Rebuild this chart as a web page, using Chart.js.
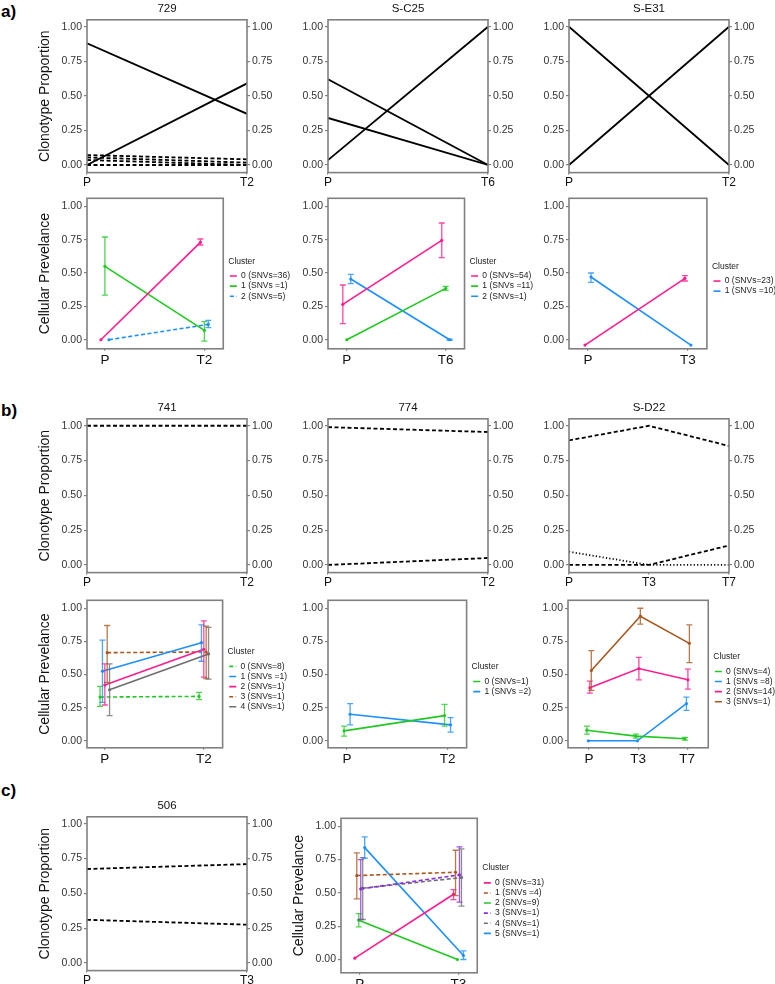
<!DOCTYPE html>
<html><head><meta charset="utf-8">
<script src="https://cdn.jsdelivr.net/npm/chart.js@4.4.1/dist/chart.umd.min.js"></script>
<style>
html,body{margin:0;padding:0;background:#fff;}
#page{position:relative;width:775px;height:984px;overflow:hidden;background:#fff;font-family:'Liberation Sans',Arial,sans-serif;}
.lbl{position:absolute;font-weight:bold;font-size:17px;color:#000;line-height:17px;}
</style></head><body><div id="page">
<div class="lbl" style="left:1px;top:3px">a)</div>
<div class="lbl" style="left:1px;top:402px">b)</div>
<div class="lbl" style="left:1px;top:782px">c)</div>
</div>
<script>
// ================= DATA =================
// ---- a) clonotype proportions
const timesA729 = ['P', 'T2'];
const cloneA729 = [[0.88, 0.37], [0.0, 0.59], [0.072, 0.041], [0.055, 0.017], [0.036, 0.0], [0.0, 0.0]];
const cloneTypeA729 = ['solid', 'solid', 'dashed', 'dashed', 'dashed', 'dashed'];

const timesC25 = ['P', 'T6'];
const cloneC25 = [[0.035, 1.0], [0.62, 0.0], [0.34, 0.0]];
const cloneTypeC25 = ['solid', 'solid', 'solid'];

const timesE31Clone = ['P', 'T2'];
const cloneE31 = [[1.0, 0.0], [0.0, 1.0]];
const cloneTypeE31 = ['solid', 'solid'];

// ---- a) cellular prevalence
const clusA729 = ['0 (SNVs=36)', '1 (SNVs =1)', '2 (SNVs=5)'];
const prevA729 = [[0.0, 0.73], [0.55, 0.07], [0.0, 0.115]];
const loA729 = [[null, 0.71], [0.335, -0.01], [null, 0.09]];
const hiA729 = [[null, 0.755], [0.77, 0.135], [null, 0.145]];

const clusC25 = ['0 (SNVs=54)', '1 (SNVs =11)', '2 (SNVs=1)'];
const prevC25 = [[0.265, 0.745], [0.0, 0.385], [0.455, 0.0]];
const loC25 = [[0.12, 0.615], [null, 0.37], [0.42, -0.005]];
const hiC25 = [[0.41, 0.875], [null, 0.40], [0.49, 0.005]];

const timesE31 = ['P', 'T3'];
const clusE31 = ['0 (SNVs=23)', '1 (SNVs =10)'];
const prevE31 = [[-0.04, 0.46], [0.47, -0.04]];
const loE31 = [[null, 0.44], [0.43, null]];
const hiE31 = [[null, 0.48], [0.50, null]];

// ---- b) clonotype proportions
const times741 = ['P', 'T2'];
const clone741 = [[1.0, 1.0]];
const cloneType741 = ['dashed'];

const times774 = ['P', 'T2'];
const clone774 = [[0.99, 0.955], [0.0, 0.05]];
const cloneType774 = ['dashed', 'dashed'];

const timesD22 = ['P', 'T3', 'T7'];
const cloneD22 = [[0.895, 1.0, 0.855], [0.095, 0.0, 0.0], [0.0, 0.0, 0.14]];
const cloneTypeD22 = ['dashed', 'dotted', 'dashed'];

// ---- b) cellular prevalence
const clus741 = ['0 (SNVs=8)', '1 (SNVs =1)', '2 (SNVs=1)', '3 (SNVs=1)', '4 (SNVs=1)'];
const prev741 = [[0.33, 0.335], [0.525, 0.74], [0.42, 0.69], [0.665, 0.67], [0.385, 0.655]];
const lo741 = [[0.26, 0.31], [0.29, 0.60], [0.27, 0.48], [0.44, 0.47], [0.19, 0.465]];
const hi741 = [[0.41, 0.365], [0.76, 0.875], [0.58, 0.905], [0.87, 0.865], [0.58, 0.855]];

const clus774 = ['0 (SNVs=1)', '1 (SNVs =2)'];
const prev774 = [[0.075, 0.19], [0.20, 0.12]];
const lo774 = [[0.035, 0.11], [0.12, 0.065]];
const hi774 = [[0.11, 0.275], [0.28, 0.175]];

const clusD22 = ['0 (SNVs=4)', '1 (SNVs =8)', '2 (SNVs=14)', '3 (SNVs=1)'];
const prevD22 = [[0.08, 0.035, 0.015], [0.0, 0.0, 0.28], [0.40, 0.545, 0.46], [0.53, 0.94, 0.735]];
const loD22 = [[0.05, 0.02, 0.005], [null, null, 0.23], [0.36, 0.46, 0.39], [0.38, 0.88, 0.59]];
const hiD22 = [[0.11, 0.05, 0.025], [null, null, 0.33], [0.45, 0.63, 0.54], [0.68, 1.0, 0.875]];

// ---- c) patient 506
const times506 = ['P', 'T3'];
const clone506 = [[0.675, 0.71], [0.31, 0.275]];
const cloneType506 = ['dashed', 'dashed'];

const clus506 = ['0 (SNVs=31)', '1 (SNVs =4)', '2 (SNVs=9)', '3 (SNVs=1)', '4 (SNVs=1)', '5 (SNVs=1)'];
const prev506 = [[0.01, 0.49], [0.63, 0.655], [0.295, 0.0], [0.53, 0.635], [0.535, 0.615], [0.84, 0.03]];
const lo506 = [[null, 0.45], [0.455, 0.48], [0.245, null], [0.30, 0.43], [0.30, 0.40], [0.76, 0.0]];
const hi506 = [[null, 0.525], [0.80, 0.82], [0.345, null], [0.75, 0.845], [0.765, 0.83], [0.92, 0.065]];

const Y_TICKS = [0, 0.25, 0.5, 0.75, 1];

// ================= STYLE =================
Chart.defaults.font.family = "'Liberation Sans', Arial, Helvetica, sans-serif";
Chart.defaults.animation = false;
const PINK = '#FF1C8E', GREEN = '#22C922', BLUE = '#1E8FFF', BROWN = '#A8571F', GREY = '#6E6E6E', PURPLE = '#8B2BE2';
const DASH = {solid: [], dashed: [4, 2.5], dotted: [1.2, 2.2]};
const FRAME_COL = '#808080';
const DODGE = 0.12;

const colA729 = [PINK, GREEN, BLUE], ltA729 = ['solid', 'solid', 'dashed'];
const colC25 = [PINK, GREEN, BLUE], ltC25 = ['solid', 'solid', 'solid'];
const colE31 = [PINK, BLUE], ltE31 = ['solid', 'solid'];
const col741 = [GREEN, BLUE, PINK, BROWN, GREY], lt741 = ['dashed', 'solid', 'solid', 'dashed', 'solid'];
const col774 = [GREEN, BLUE], lt774 = ['solid', 'solid'];
const colD22 = [GREEN, BLUE, PINK, BROWN], ltD22 = ['solid', 'solid', 'solid', 'solid'];
const col506 = [PINK, BROWN, GREEN, PURPLE, GREY, BLUE], lt506 = ['solid', 'dashed', 'solid', 'dashed', 'dashed', 'solid'];

const framePlugin = {
  id: 'frame',
  afterDatasetsDraw(chart) {
    const {ctx, chartArea: a} = chart;
    ctx.save();
    ctx.strokeStyle = FRAME_COL; ctx.lineWidth = 1.6; ctx.setLineDash([]);
    ctx.strokeRect(a.left, a.top, a.right - a.left, a.bottom - a.top);
    ctx.restore();
  }
};

const errorBarPlugin = {
  id: 'errbars',
  afterDatasetsDraw(chart) {
    const ctx = chart.ctx, xs = chart.scales.x, ys = chart.scales.y;
    chart.data.datasets.forEach((ds) => {
      if (!ds.errLo) return;
      ctx.save();
      ctx.strokeStyle = ds.borderColor; ctx.globalAlpha = 0.8; ctx.lineWidth = 1.3; ctx.setLineDash([]);
      ds.data.forEach((pt, j) => {
        const lo = ds.errLo[j], hi = ds.errHi[j];
        if (lo == null || hi == null) return;
        const px = xs.getPixelForValue(pt.x);
        const y1 = ys.getPixelForValue(lo), y2 = ys.getPixelForValue(hi);
        ctx.beginPath();
        ctx.moveTo(px, y1); ctx.lineTo(px, y2);
        ctx.moveTo(px - 3, y1); ctx.lineTo(px + 3, y1);
        ctx.moveTo(px - 3, y2); ctx.lineTo(px + 3, y2);
        ctx.stroke();
      });
      ctx.restore();
    });
  }
};

function yAxis(o, pos, width, showTitle) {
  return {
    position: pos, min: o.ymin, max: o.ymax,
    afterBuildTicks: s => { s.ticks = Y_TICKS.map(v => ({value: v})); },
    ticks: {callback: v => v.toFixed(2), color: '#333', font: {size: 10.5}, padding: 2},
    grid: {drawOnChartArea: false, tickLength: 3, color: FRAME_COL, lineWidth: 1.2},
    border: {display: false},
    title: {display: showTitle, text: o.yTitle || '', color: '#111', font: {size: 14}, padding: {top: 2, bottom: 0}},
    afterFit: s => { s.width = width; }
  };
}

function xAxis(o, size) {
  return {
    type: 'linear', min: o.xmin, max: o.xmax,
    afterBuildTicks: s => { s.ticks = o.times.map((_, j) => ({value: j})); },
    ticks: {callback: v => o.times[v], color: '#111', font: {size: size}, padding: 1, maxRotation: 0, autoSkip: false},
    grid: {drawOnChartArea: false, tickLength: 2, color: FRAME_COL, lineWidth: 1.2},
    border: {display: false}
  };
}

function clonoConfig(o) {
  const w = o.yTitle ? 52 : 30;
  return () => ({
    type: 'line',
    data: {datasets: o.series.map((s, i) => ({
      label: 'clone ' + (i + 1),
      data: s.map((v, j) => ({x: j, y: v})),
      borderColor: '#000', borderWidth: 1.8, borderDash: DASH[o.types[i]],
      pointRadius: 0, tension: 0, fill: false
    }))},
    options: {
      responsive: false, animation: false, events: [],
      plugins: {
        legend: {display: false}, tooltip: {enabled: false},
        title: {display: true, text: o.title, color: '#111', font: {size: 11.5, weight: 'normal'}, padding: {top: 0, bottom: 4}}
      },
      scales: {
        x: xAxis({times: o.times, xmin: 0, xmax: o.times.length - 1}, 12),
        y: yAxis(o, 'left', w, !!o.yTitle),
        yR: yAxis(o, 'right', w, false)
      }
    },
    plugins: [framePlugin]
  });
}

function legendLabels(chart) {
  return chart.data.datasets.map((ds, i) => ({
    text: ds.label, datasetIndex: i, hidden: false,
    fillStyle: ds.borderColor, strokeStyle: ds.borderColor,
    lineWidth: 1.6, lineDash: ds.borderDash, pointStyle: 'line', fontColor: '#222'
  }));
}

function cellConfig(o) {
  return () => {
    const n = o.clusters.length, step = DODGE / n;
    return {
      type: 'line',
      data: {datasets: o.clusters.map((name, i) => {
        const off = (i - (n - 1) / 2) * step;
        return {
          label: name,
          data: o.values[i].map((v, j) => ({x: j + off, y: v})),
          errLo: o.lo[i], errHi: o.hi[i],
          borderColor: o.colors[i], backgroundColor: o.colors[i], pointBackgroundColor: o.colors[i],
          borderWidth: 1.6, borderDash: DASH[o.types[i]], pointRadius: 1.6, pointBorderWidth: 0,
          tension: 0, fill: false
        };
      })},
      options: {
        responsive: false, animation: false, events: [],
        plugins: {
          tooltip: {enabled: false},
          legend: {
            position: 'right', align: 'center', maxWidth: 300,
            title: {display: true, text: 'Cluster', position: 'start', color: '#222', font: {size: 8.5}, padding: {top: 0, bottom: 3}},
            labels: {usePointStyle: true, pointStyle: 'line', pointStyleWidth: 7, boxHeight: 8, padding: 1.6,
                     color: '#222', font: {size: 8.5}, generateLabels: legendLabels}
          }
        },
        scales: {
          x: xAxis(o, 13.5),
          y: yAxis(o, 'left', o.yTitle ? 52 : 30, !!o.yTitle),
          gap: {position: 'right', display: true, ticks: {display: false}, grid: {display: false}, border: {display: false},
                afterFit: s => { s.width = 5; }}
        }
      },
      plugins: [framePlugin, errorBarPlugin]
    };
  };
}

const page = document.getElementById('page');
function place(box, build) {
  const wrap = document.createElement('div');
  wrap.style.position = 'absolute';
  page.appendChild(wrap);
  let W = box.w + 200, H = box.h + 80, ch = null, cv = null;
  for (let pass = 0; pass < 2; pass++) {
    if (ch) { ch.destroy(); cv.remove(); }
    cv = document.createElement('canvas');
    cv.width = W; cv.height = H; cv.style.width = W + 'px'; cv.style.height = H + 'px';
    wrap.style.width = W + 'px'; wrap.style.height = H + 'px';
    wrap.appendChild(cv);
    ch = new Chart(cv, build());
    const ca = ch.chartArea;
    W = Math.round(W - (ca.right - ca.left) + box.w);
    H = Math.round(H - (ca.bottom - ca.top) + box.h);
  }
  wrap.style.left = Math.round(box.x - ch.chartArea.left) + 'px';
  wrap.style.top = Math.round(box.y - ch.chartArea.top) + 'px';
}

const CLONO_RANGE = {ymin: -0.055, ymax: 1.05};

// ---- row a top
place({x: 87, y: 20, w: 160, h: 153}, clonoConfig(Object.assign({title: '729', times: timesA729, series: cloneA729, types: cloneTypeA729, yTitle: 'Clonotype Proportion'}, CLONO_RANGE)));
place({x: 328, y: 20, w: 160, h: 153}, clonoConfig(Object.assign({title: 'S-C25', times: timesC25, series: cloneC25, types: cloneTypeC25}, CLONO_RANGE)));
place({x: 569, y: 20, w: 160, h: 153}, clonoConfig(Object.assign({title: 'S-E31', times: timesE31Clone, series: cloneE31, types: cloneTypeE31}, CLONO_RANGE)));

// ---- row a bottom
place({x: 87, y: 198, w: 136, h: 150}, cellConfig({times: timesA729, clusters: clusA729, values: prevA729, lo: loA729, hi: hiA729, colors: colA729, types: ltA729, yTitle: 'Cellular Prevelance', xmin: -0.18, xmax: 1.19, ymin: -0.068, ymax: 1.06}));
place({x: 328, y: 198, w: 137, h: 150}, cellConfig({times: timesC25, clusters: clusC25, values: prevC25, lo: loC25, hi: hiC25, colors: colC25, types: ltC25, xmin: -0.19, xmax: 1.19, ymin: -0.068, ymax: 1.06}));
place({x: 569, y: 198, w: 138, h: 150}, cellConfig({times: timesE31, clusters: clusE31, values: prevE31, lo: loE31, hi: hiE31, colors: colE31, types: ltE31, xmin: -0.19, xmax: 1.19, ymin: -0.068, ymax: 1.06}));

// ---- row b top
place({x: 87, y: 419, w: 160, h: 154}, clonoConfig(Object.assign({title: '741', times: times741, series: clone741, types: cloneType741, yTitle: 'Clonotype Proportion'}, CLONO_RANGE)));
place({x: 328, y: 419, w: 160, h: 154}, clonoConfig(Object.assign({title: '774', times: times774, series: clone774, types: cloneType774}, CLONO_RANGE)));
place({x: 569, y: 419, w: 160, h: 154}, clonoConfig(Object.assign({title: 'S-D22', times: timesD22, series: cloneD22, types: cloneTypeD22}, CLONO_RANGE)));

// ---- row b bottom
place({x: 87, y: 600, w: 136, h: 147}, cellConfig({times: times741, clusters: clus741, values: prev741, lo: lo741, hi: hi741, colors: col741, types: lt741, yTitle: 'Cellular Prevelance', xmin: -0.18, xmax: 1.19, ymin: -0.053, ymax: 1.06}));
place({x: 328, y: 600, w: 139, h: 147}, cellConfig({times: times774, clusters: clus774, values: prev774, lo: lo774, hi: hi774, colors: col774, types: lt774, xmin: -0.19, xmax: 1.19, ymin: -0.053, ymax: 1.06}));
place({x: 568, y: 600, w: 140, h: 147}, cellConfig({times: timesD22, clusters: clusD22, values: prevD22, lo: loD22, hi: hiD22, colors: colD22, types: ltD22, xmin: -0.43, xmax: 2.43, ymin: -0.053, ymax: 1.06}));

// ---- row c
place({x: 87, y: 817, w: 160, h: 154}, clonoConfig(Object.assign({title: '506', times: times506, series: clone506, types: cloneType506, yTitle: 'Clonotype Proportion'}, CLONO_RANGE)));
place({x: 341, y: 818, w: 136, h: 154}, cellConfig({times: times506, clusters: clus506, values: prev506, lo: lo506, hi: hi506, colors: col506, types: lt506, yTitle: 'Cellular Prevelance', xmin: -0.19, xmax: 1.19, ymin: -0.1, ymax: 1.06}));
</script></body></html>
